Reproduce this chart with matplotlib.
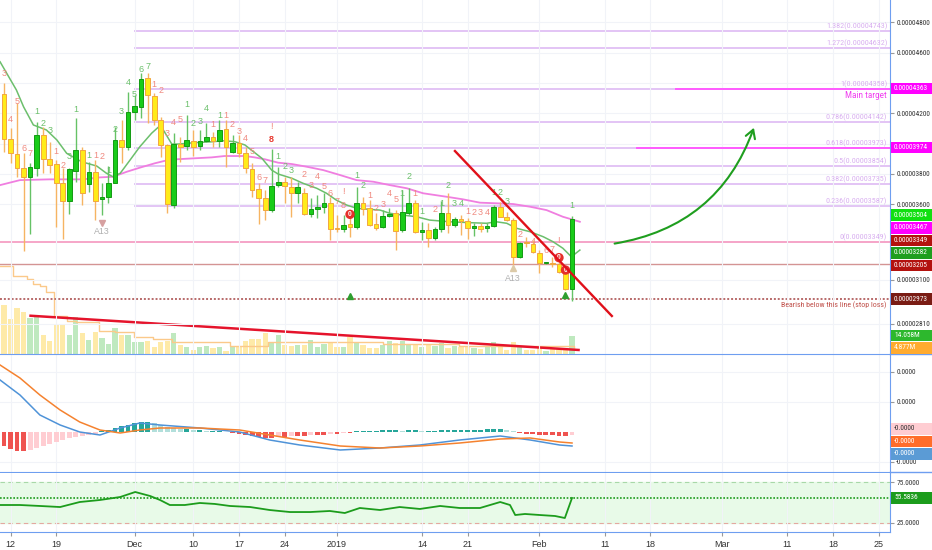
import numpy as np
import matplotlib
matplotlib.use("Agg")
import matplotlib.pyplot as plt
import matplotlib.dates as mdates
from matplotlib import font_manager
from matplotlib.font_manager import FontProperties
from matplotlib.patches import Rectangle, FancyArrowPatch
from matplotlib.lines import Line2D
from matplotlib.transforms import IdentityTransform, blended_transform_factory

plt.rcParams['font.family'] = ['Liberation Sans', 'DejaVu Sans']


def _wnum(w):
    if isinstance(w, (int, float)):
        return float(w)
    return {'normal': 400, 'regular': 400, 'book': 400, 'roman': 400, 'medium': 500}.get(str(w).lower(), 700)


def pick_narrow():
    prio = ['Liberation Sans Narrow', 'Roboto Condensed', 'DejaVu Sans', 'Noto Sans', 'Open Sans', 'Arial Narrow']
    best = None
    for f in font_manager.fontManager.ttflist:
        nm, st = f.name, str(f.stretch).lower()
        narrow = ('Narrow' in nm or 'Condensed' in nm or st in ('condensed', 'semi-condensed', 'extra-condensed'))
        if not narrow or 'Mono' in nm or 'Serif' in nm or f.style != 'normal':
            continue
        if abs(_wnum(f.weight) - 400) > 50:
            continue
        key = (next((i for i, p in enumerate(prio) if nm.startswith(p)), 99), nm)
        if best is None or key < best[0]:
            best = (key, f.fname)
    if best:
        return FontProperties(fname=best[1])
    return FontProperties(family='Liberation Sans')


NFP = pick_narrow()

# ---------------- data (prices in 1e-8 units) ----------------
start_date = "2018-11-11"
opens = [4325, 4030, 3929, 3837, 3779, 3837, 4057, 3896, 3863, 3742, 3623, 3819, 3957, 3733, 3810, 3632,
         3645, 3742, 4024, 3975, 4210, 4243, 4431, 4314, 4156, 3991, 3594, 3997, 3984, 4019, 3984, 4019,
         4045, 4017, 4094, 3946, 4006, 3940, 3830, 3698, 3643, 3561, 3726, 3744, 3715, 3672, 3676, 3533,
         3566, 3579, 3606, 3445, 3436, 3469, 3447, 3610, 3573, 3469, 3447, 3522, 3540, 3429, 3540, 3606,
         3414, 3429, 3375, 3434, 3540, 3462, 3504, 3489, 3441, 3456, 3441, 3458, 3583, 3517, 3495, 3253,
         3352, 3335, 3280, 3210, 3214, 3205, 3150, 3038]
highs = [4400, 4103, 4268, 3938, 3872, 4144, 4111, 4012, 3891, 3837, 3837, 4167, 3979, 3880, 3891, 3738,
         3852, 4111, 4156, 4342, 4321, 4464, 4464, 4332, 4177, 3995, 4068, 4045, 4189, 4090, 4090, 4134,
         4078, 4156, 4156, 4057, 4057, 3979, 3870, 3738, 3693, 3962, 3847, 3781, 3781, 3748, 3705, 3639,
         3660, 3672, 3649, 3528, 3528, 3507, 3715, 3649, 3627, 3540, 3561, 3573, 3561, 3693, 3705, 3627,
         3484, 3474, 3451, 3623, 3672, 3517, 3528, 3507, 3474, 3474, 3474, 3594, 3616, 3550, 3507, 3352,
         3381, 3363, 3297, 3218, 3253, 3218, 3165, 3522]
lows = [3946, 3872, 3781, 3293, 3401, 3786, 3808, 3808, 3451, 3370, 3535, 3748, 3594, 3682, 3495, 3528,
        3606, 3738, 3870, 3957, 4156, 4167, 4134, 4123, 3913, 3540, 3573, 3880, 3957, 3918, 3957, 4012,
        3979, 3979, 3847, 3936, 3913, 3804, 3649, 3469, 3495, 3550, 3715, 3606, 3517, 3606, 3528, 3517,
        3507, 3544, 3363, 3418, 3418, 3381, 3436, 3528, 3456, 3429, 3441, 3517, 3297, 3418, 3528, 3408,
        3363, 3319, 3363, 3418, 3408, 3451, 3396, 3368, 3390, 3418, 3418, 3451, 3513, 3491, 3198, 3243,
        3315, 3276, 3144, 3205, 3187, 3144, 3033, 2963]
closes = [4030, 3936, 3837, 3777, 3843, 4057, 3898, 3858, 3738, 3623, 3830, 3957, 3672, 3810, 3623, 3649,
          3742, 4024, 3975, 4210, 4248, 4426, 4321, 4156, 3991, 3599, 3997, 3979, 4024, 3979, 4019, 4045,
          4017, 4090, 3979, 4002, 3940, 3837, 3693, 3643, 3561, 3720, 3744, 3722, 3672, 3711, 3535, 3566,
          3579, 3610, 3436, 3436, 3462, 3447, 3606, 3566, 3462, 3441, 3522, 3533, 3425, 3550, 3606, 3414,
          3429, 3375, 3434, 3540, 3462, 3502, 3489, 3445, 3456, 3434, 3458, 3583, 3517, 3495, 3253, 3346,
          3342, 3286, 3210, 3214, 3205, 3154, 3038, 3504]
volumes_m = [37.6, 26.8, 35.0, 32.0, 27.3, 29.9, 14.6, 10.2, 23.0, 23.0, 14.8, 28.1, 16.1, 10.7, 17.1, 12.3,
             7.7, 19.9, 14.8, 14.8, 9.5, 8.9, 10.2, 5.6, 9.5, 10.2, 16.1, 7.2, 5.6, 3.1, 5.1, 6.4,
             4.3, 5.1, 2.6, 5.6, 5.6, 10.2, 11.5, 11.5, 15.8, 8.2, 14.6, 7.2, 6.4, 7.2, 7.2, 10.7,
             5.6, 7.7, 8.2, 5.6, 5.6, 12.8, 8.9, 7.2, 4.6, 4.6, 7.2, 10.2, 8.2, 9.7, 7.2, 6.9,
             5.6, 7.7, 6.4, 8.2, 4.6, 6.4, 5.6, 5.1, 4.6, 4.1, 5.6, 8.9, 5.1, 3.3, 8.9, 5.1,
             3.3, 3.3, 4.3, 2.6, 4.6, 3.8, 3.8, 14.058]

ema_fast_day = [-0.6, 1.9, 3.0, 4.5, 6.5, 8.1, 9.6, 11.9, 14.2, 15.7, 16.7, 17.8, 19.3, 20.8, 22.6, 23.6,
                24.4, 25.7, 26.7, 29.2, 31.8, 33.8, 35.4, 36.9, 37.9, 39.5, 41.0, 42.0, 44.1, 45.8, 47.9,
                49.4, 50.9, 52.5, 54.0, 56.0, 57.6, 59.1, 61.1, 63.2, 65.2, 68.3, 71.4, 73.9, 75.4, 77.0,
                78.5, 80.6, 82.6, 84.1, 85.6, 86.9, 88.2]
ema_fast_val = [4540, 4354, 4243, 4123, 4090, 4024, 3936, 3880, 3852, 3804, 3781, 3804, 3891, 3979, 4068, 4107,
                4090, 3997, 3997, 4006, 4012, 4019, 4012, 3991, 3957, 3903, 3825, 3799, 3771, 3738, 3705,
                3672, 3627, 3594, 3573, 3566, 3561, 3540, 3528, 3517, 3495, 3484, 3478, 3474, 3484, 3474,
                3441, 3418, 3385, 3352, 3309, 3253, 3297]
ma_slow_day = [-0.6, 2.45, 7.0, 12.1, 14.7, 16.7, 18.8, 20.8, 23.1, 24.7, 26.2, 29.2, 31.8, 33.8, 36.9, 38.4,
               40.0, 42.0, 44.1, 46.4, 48.9, 51.5, 54.0, 56.6, 59.1, 61.7, 64.2, 67.8, 70.3, 72.9, 75.4,
               78.0, 80.6, 83.1, 85.6, 88.2]
ma_slow_val = [3726, 3759, 3764, 3764, 3777, 3781, 3814, 3841, 3870, 3887, 3896, 3903, 3909, 3918, 3918, 3909,
               3896, 3874, 3865, 3847, 3825, 3792, 3759, 3748, 3726, 3705, 3672, 3649, 3632, 3610, 3606,
               3601, 3583, 3561, 3517, 3484]
vol_ma_day = [-0.6, 0.4, 1.4, 3.5, 4.5, 5.5, 6.5, 7.6, 9.6, 11.1, 14.6, 17.0, 19.9, 22.8, 25.7, 34.6, 40.4,
              46.2, 58.0, 69.7, 87.3]
vol_ma_val = [67.8, 67.8, 60.1, 57.6, 53.8, 52.5, 47.4, 29.4, 25.6, 24.3, 17.9, 16.7, 12.8, 11.5, 9.0, 6.4, 9.0,
              9.0, 7.7, 6.4, 4.877]

macd_day = [-0.6, 2.45, 5.5, 8.6, 11.6, 14.7, 17.8, 20.8, 23.9, 30.0, 36.1, 40.7, 45.3, 51.5, 57.6, 63.7,
            69.8, 76.0, 80.6, 85.1, 87.0]
macd_val = [52, 37, 17, 7, 0, -3, 4, 9, 7, 4, 0, -8, -13, -18, -16, -13, -8, -4, -8, -13, -14]
signal_val = [67, 54, 37, 22, 10, 2, -1, 2, 4, 4, 2, -3, -8, -14, -16, -14, -11, -7, -6, -10, -11]
hist_val = [-14, -17, -19, -19, -18, -16, -14, -12, -10, -8, -6, -5, -4, -3, -2, 1, 2, 4, 6, 7, 9, 10,
            10, 9, 7, 5, 4, 3, 3, 2, 2, 1, 1, 1, 0.5, -1, -2, -3, -4, -5, -6, -6, -5, -5, -4, -4,
            -4, -3, -3, -3, -2, -2, -1, -1, 1, 1, 1, 1, 2, 2, 2, 1, 2, 2, 1, 1, 1, 2, 2, 2,
            2, 2, 2, 2, 3, 3, 3, 2, 1, -1, -2, -2, -3, -3, -3, -4, -4, -3]

rsi_day = [-0.6, 2.45, 5.5, 8.6, 11.6, 14.7, 17.8, 20.1, 22.4, 23.9, 25.4, 27.7, 30.0, 32.3, 34.6, 37.7,
           40.7, 43.8, 46.9, 49.9, 52.2, 54.5, 57.6, 60.6, 63.7, 66.8, 69.8, 72.9, 76.0, 77.5, 78.3,
           79.8, 82.1, 84.4, 85.9, 87.0]
rsi_val = [46.9, 46.9, 45.7, 44.4, 50.6, 53.1, 56.8, 63.0, 58.0, 53.1, 46.9, 46.9, 49.4, 48.2, 45.7, 44.4,
           40.7, 38.2, 38.2, 39.5, 37.0, 43.2, 40.7, 44.4, 42.0, 45.7, 43.2, 43.2, 50.6, 46.9, 34.5,
           35.8, 34.5, 33.3, 30.8, 55.5836]

fib_names = ['0', '0.236', '0.382', '0.5', '0.618', '0.786', '1', '1.272', '1.382']
fib_prices = [3349, 3587, 3735, 3854, 3973, 4142, 4358, 4632, 4743]
fib_start_day = 20

td_day = [0, 1, 2, 3, 4, 5, 6, 7, 8, 9, 10, 11, 13, 14, 15, 16, 17, 18, 19, 20, 21, 22, 23, 24, 25, 26, 27,
          28, 29, 30, 31, 32, 33, 34, 35, 36, 37, 38, 39, 40, 41, 41, 42, 43, 44, 46, 47, 48, 49, 50, 51,
          52, 52, 54, 55, 56, 57, 58, 59, 60, 61, 62, 63, 64, 66, 67, 68, 69, 70, 71, 72, 73, 74, 75,
          76, 77, 79, 81, 83, 84, 85, 87]
td_text = ['3', '4', '5', '6', '7', '1', '2', '3', '1', '2', '3', '1', '1', '1', '2', '1', '2', '3', '4', '5',
           '6', '7', '1', '2', '3', '4', '5', '1', '2', '3', '4', '1', '1', '1', '2', '3', '4', '5', '6', '7',
           '8', '!', '1', '2', '3', '2', '3', '4', '5', '6', '7', '8', '!', '1', '2', '1', '2', '3', '4',
           '5', '1', '2', '1', '1', '2', '1', '2', '3', '4', '1', '2', '3', '4', '1', '2', '3', '2', '4',
           '6', '7', '!', '1']
td_col = ['r', 'r', 'r', 'r', 'r', 'g', 'g', 'g', 'r', 'r', 'g', 'g', 'g', 'r', 'r', 'g', 'g', 'g', 'g', 'g',
          'g', 'g', 'r', 'r', 'r', 'r', 'r', 'g', 'g', 'g', 'g', 'r', 'g', 'r', 'r', 'r', 'r', 'r', 'r', 'r',
          'R', 'r', 'g', 'g', 'g', 'r', 'r', 'r', 'r', 'r', 'r', 'r', 'r', 'g', 'g', 'r', 'r', 'r', 'r',
          'r', 'g', 'g', 'r', 'g', 'r', 'g', 'g', 'g', 'g', 'r', 'r', 'r', 'r', 'g', 'g', 'g', 'r', 'r',
          'r', 'r', 'r', 'g']
td_price = [4464, 4156, 4281, 3969, 3936, 4210, 4134, 4085, 3946, 3858, 3913, 4222, 3924, 3924, 3918, 3821,
            4090, 4210, 4402, 4325, 4490, 4507, 4393, 4349, 4068, 4138, 4160, 4255, 4134, 4149, 4233, 4123,
            4184, 4184, 4127, 4083, 4035, 3946, 3775, 3759, 4024, 4111, 3913, 3847, 3821, 3799, 3726, 3781,
            3715, 3672, 3616, 3594, 3682, 3792, 3726, 3660, 3573, 3599, 3672, 3632, 3672, 3781, 3672, 3555,
            3566, 3606, 3726, 3606, 3606, 3555, 3544, 3544, 3544, 3676, 3676, 3616, 3403, 3352, 3297, 3302,
            3363, 3594]
zero_day = [53, 85, 86]
zero_price = [3533, 3247, 3165]
tri_day = [53, 86]
tri_price = [2996, 3000]
a13_day = [15, 78]
a13_marker_price = [3478, 3177]
a13_text_price = [3418, 3110]

h_line_3349 = 3349
h_line_3205 = 3205
stop_loss = 2973
main_target = 4363
main_target_start = 103
level_3974 = 3974
level_3974_start = 97

down_line_day = [69.07, 93.1]
down_line_val = [3951, 2862]
vol_line_day = [4.07, 88.0]
vol_line_val = [29.4, 3.1]
arrow_day = [93.1, 115.0]
arrow_val = [3337, 4122]

tick_dates = ['2018-11-12', '2018-11-19', '2018-12-01', '2018-12-10', '2018-12-17', '2018-12-24',
              '2019-01-01', '2019-01-14', '2019-01-21', '2019-02-01', '2019-02-11', '2019-02-18',
              '2019-03-01', '2019-03-11', '2019-03-18', '2019-03-25']
tick_labels = ['12', '19', 'Dec', '10', '17', '24', '2019', '14', '21', 'Feb', '11', '18', 'Mar', '11', '18', '25']
price_ticks = [4800, 4600, 4400, 4200, 4000, 3800, 3600, 3100, 2810]
hidden_price_labels = [4400, 4000]   # covered by price tags in the reference

# ---------------- figure ----------------
W, H = 932, 550
fig = plt.figure(figsize=(W / 100, H / 100), dpi=100)
fig.patch.set_facecolor('white')
PW = 890 / W
BLUE = '#6e9ef0'
GRID = '#f1f3f8'
renderer = fig.canvas.get_renderer()


def fit(sample, width_px, base=6.5, cap=6.8):
    t = fig.text(0, 0, sample, fontsize=base, fontproperties=NFP)
    t.set_fontsize(base)
    w = t.get_window_extent(renderer).width
    t.remove()
    return min(base * width_px / w, cap)


FS_AX = fit("0.00004800", 34.5)
FS_FIB = fit("1.382(0.00004743)", 61)
FS_BEAR = fit("Bearish below this line (stop loss)", 105, cap=7)
FS_TGT = fit("Main target", 42, cap=7.5)


def nfp(size):
    p = NFP.copy()
    p.set_size(size)
    return p


def rect(top_px, bot_px):
    return [0, 1 - bot_px / H, PW, (bot_px - top_px) / H]


axv = fig.add_axes(rect(0, 354))
ax = fig.add_axes(rect(0, 354), sharex=axv)
ax2 = fig.add_axes(rect(355, 472), sharex=axv)
ax3 = fig.add_axes(rect(473, 532), sharex=axv)
axv.set_zorder(1)
ax.set_zorder(2)
ax.patch.set_alpha(0)

base = mdates.datestr2num(start_date)
n = len(opens)
xs = base + np.arange(n)
o = np.array(opens, float)
c = np.array(closes, float)
hi = np.array(highs, float)
lo = np.array(lows, float)
up = c >= o

xlim = (base - 0.61, base + 135.7)
ax.set_xlim(*xlim)
ax.set_ylim(2611, 4948)
axv.set_ylim(0, 272)
ax2.set_ylim(-40, 77)
ax3.set_ylim(13.5, 86.5)

tick_x = [mdates.datestr2num(d) for d in tick_dates]

for a in (axv, ax, ax2, ax3):
    a.set_xticks(tick_x)
    for s in ('top', 'left'):
        a.spines[s].set_visible(False)
    a.spines['right'].set_color(BLUE)
    a.spines['bottom'].set_color(BLUE)
    a.tick_params(axis='x', length=0, labelbottom=False)
    a.grid(axis='x', color=GRID, lw=0.8)

axv.axis('off')
axv.grid(False)
for a in (ax, ax2, ax3):
    a.yaxis.tick_right()
    a.tick_params(axis='y', which='both', length=3, color='#999999', pad=1.5, left=False)

ax3.set_xticks(tick_x)
ax3.set_xticklabels(tick_labels, fontsize=6.5, color='#333333')
ax3.tick_params(axis='x', length=3, color='#999999', labelbottom=True, pad=3)

ax.set_yticks(price_ticks)
ax.set_yticklabels(['' if t in hidden_price_labels else f"{t / 1e8:.8f}" for t in price_ticks],
                   fontproperties=nfp(FS_AX), color='#333333')
ax.grid(axis='y', color=GRID, lw=0.8)

# ---------------- volume ----------------
vcol = np.where(up, '#bfe9bf', '#feeaa8')
axv.bar(xs, volumes_m, width=0.8, color=vcol, zorder=1)
axv.plot(base + np.array(vol_ma_day), vol_ma_val, color='#fbc98a', lw=1, drawstyle='steps-post', zorder=2)
axv.plot(base + np.array(vol_line_day), vol_line_val, color='#e5132b', lw=1.8, zorder=3)

# ---------------- main pane drawings ----------------
fx0 = base + fib_start_day
btr = blended_transform_factory(ax.transAxes, ax.transData)
for nm, p in zip(fib_names, fib_prices):
    ax.plot([fx0, xlim[1]], [p, p], color='#e3c4f5', lw=1.4, zorder=1)
    ax.annotate(f"{nm}({p / 1e8:.8f})", xy=(1, p), xycoords=btr,
                xytext=(-2, 0.8), textcoords='offset points', ha='right', va='bottom',
                fontproperties=nfp(FS_FIB), color='#d9b0f0', zorder=2)

ax.axhline(h_line_3349, color='#f6a6c8', lw=1.4, zorder=1)
ax.axhline(h_line_3205, color='#d49494', lw=1.0, zorder=1)
ax.axhline(stop_loss, color='#b86a6a', lw=1.4, ls=(0, (1, 1)), zorder=1)
ax.plot([base + main_target_start, xlim[1]], [main_target] * 2, color='#ff5cff', lw=1.4, zorder=2)
ax.plot([base + level_3974_start, xlim[1]], [level_3974] * 2, color='#ff5cff', lw=1.4, zorder=2)
ax.annotate("Main target", xy=(1, main_target), xycoords=btr, xytext=(-2.5, -1.5), textcoords='offset points',
            ha='right', va='top', fontproperties=nfp(FS_TGT), color='#f040f0')
ax.annotate("Bearish below this line (stop loss)", xy=(1, stop_loss), xycoords=btr, xytext=(-2.5, -1.5),
            textcoords='offset points', ha='right', va='top', fontproperties=nfp(FS_BEAR), color='#c0504a')

ax.plot(base + np.array(ma_slow_day), ma_slow_val, color='#f07ee0', lw=1.3, zorder=3)
ax.plot(base + np.array(ema_fast_day), ema_fast_val, color='#6cbf6c', lw=1.1, zorder=3)

wick_col = np.where(up, '#66c266', '#f6b462')
body_col = np.where(up, '#19cc19', '#ffeb1a')
edge_col = np.where(up, '#139a13', '#f2a640')
ax.vlines(xs, lo, hi, colors=wick_col, lw=1, zorder=4)
bh = np.maximum(np.abs(c - o), 9)
ax.bar(xs, bh, bottom=np.minimum(o, c), width=0.72, color=body_col, edgecolor=edge_col, linewidth=0.7,
       zorder=5)

cmap = {'r': '#f08a80', 'g': '#6cc06c', 'R': '#e8392f'}
for d, t, cl, p in zip(td_day, td_text, td_col, td_price):
    ax.text(base + d, p, t, ha='center', va='center', fontsize=6.5, color=cmap[cl],
            fontweight='bold' if cl == 'R' else 'normal', zorder=6)
for d, p in zip(zero_day, zero_price):
    ax.text(base + d, p, '0', ha='center', va='center', fontsize=4.8, color='white', fontweight='bold',
            bbox=dict(boxstyle='circle,pad=0.18', fc='#e5302a', ec='none'), zorder=7)
for d, p in zip(tri_day, tri_price):
    ax.plot(base + d, p, marker='^', ms=4, color='#2e9e2e', zorder=6, ls='none')
ax.plot(base + a13_day[0], a13_marker_price[0], marker='v', ms=4, color='#d6a0a0', ls='none', zorder=6)
ax.plot(base + a13_day[1], a13_marker_price[1], marker='^', ms=4, color='#dccaa8', ls='none', zorder=6)
for d, p in zip(a13_day, a13_text_price):
    ax.text(base + d, p, 'A13', ha='center', va='center', fontsize=6.3, color='#b0b0b0', zorder=6)

ax.plot(base + np.array(down_line_day), down_line_val, color='#e0101a', lw=1.7, zorder=8)
arr = FancyArrowPatch((base + arrow_day[0], arrow_val[0]), (base + arrow_day[1], arrow_val[1]),
                      connectionstyle='arc3,rad=0.3', arrowstyle='->,head_length=0.6,head_width=0.35',
                      mutation_scale=10, color='#1f9e1f', lw=1.5, zorder=8)
ax.add_patch(arr)

# ---------------- MACD ----------------
hv = np.array(hist_val, float)
hcol = []
for i, v in enumerate(hv):
    prev = hv[i - 1] if i > 0 else v
    if v >= 0:
        hcol.append('#26a69a' if v >= prev else '#b2dfdb')
    else:
        hcol.append('#ef5350' if v <= prev else '#ffcdd2')
ax2.bar(xs, hv, width=0.75, color=hcol, zorder=2)
ax2.plot(base + np.array(macd_day), macd_val, color='#4f93d8', lw=1.1, zorder=3)
ax2.plot(base + np.array(macd_day), signal_val, color='#f5822f', lw=1.1, zorder=3)
ax2.set_yticks([60, 30, -30])
ax2.set_yticklabels(['0.0000', '0.0000', '-0.0000'], fontproperties=nfp(FS_AX), color='#333333')
ax2.grid(axis='y', color=GRID, lw=0.8)

# ---------------- RSI ----------------
ax3.axhspan(25, 75, color='#e8fae8', zorder=0)
ax3.axhline(75, color='#a8d8a8', lw=0.8, ls=(0, (4, 3)), zorder=1)
ax3.axhline(25, color='#e4a8a0', lw=0.8, ls=(0, (4, 3)), zorder=1)
ax3.axhline(rsi_val[-1], color='#1c9c1c', lw=1.2, ls=(0, (1, 1)), zorder=2)
ax3.plot(base + np.array(rsi_day), rsi_val, color='#1c9c1c', lw=1.3, zorder=3)
ax3.set_yticks([75, 25])
ax3.set_yticklabels(['75.0000', '25.0000'], fontproperties=nfp(FS_AX), color='#333333')

for ypx in (354, 472):
    fig.add_artist(Line2D([PW, 1], [1 - ypx / H] * 2, color=BLUE, lw=1, transform=fig.transFigure))


def spread(vals, gap=12.5):
    vals = np.array(vals, float)
    order = np.argsort(vals)
    y = vals[order].copy()
    for _ in range(200):
        moved = False
        for i in range(len(y) - 1):
            dd = y[i + 1] - y[i]
            if dd < gap - 1e-6:
                s = (gap - dd) / 2
                y[i] -= s
                y[i + 1] += s
                moved = True
        if not moved:
            break
    out = np.empty_like(y)
    out[order] = y
    return out


def tags(axis, values, texts, bgs, fgs):
    ys = [axis.transData.transform((xs[-1], v))[1] for v in values]
    ys = spread(ys)
    for y, t, bg, fg in zip(ys, texts, bgs, fgs):
        fig.add_artist(Rectangle((891, y - 5.8), 41, 11.6, transform=IdentityTransform(), facecolor=bg,
                                 edgecolor='none', zorder=10))
        fig.text(894, y, t, transform=IdentityTransform(), ha='left', va='center', fontproperties=nfp(FS_AX),
                 color=fg, zorder=11)


main_tag_vals = [main_target, level_3974, closes[-1], ma_slow_val[-1] - 17, h_line_3349, ema_fast_val[-2] + 29,
                 h_line_3205, stop_loss]
main_tag_bg = ['#ff00ff', '#ff00ff', '#11e011', '#ff00ff', '#b3120e', '#1e9e1e', '#b3120e', '#7a1c14']
tags(ax, main_tag_vals, [f"{v / 1e8:.8f}" for v in main_tag_vals], main_tag_bg, ['white'] * 8)
tags(axv, [volumes_m[-1], vol_ma_val[-1]], [f"{volumes_m[-1]:.3f}M", f"{vol_ma_val[-1]:.3f}M"],
     ['#2db82d', '#ffab30'], ['white', 'white'])
tags(ax2, [hist_val[-1], signal_val[-1], macd_val[-1]], ['-0.0000'] * 3, ['#ffcdd2', '#ff6d2a', '#5b9bd5'],
     ['#333333', 'white', 'white'])
tags(ax3, [rsi_val[-1]], [f"{rsi_val[-1]:.4f}"], ['#1c9c1c'], ['white'])

fig.savefig('out.png', dpi=100)
